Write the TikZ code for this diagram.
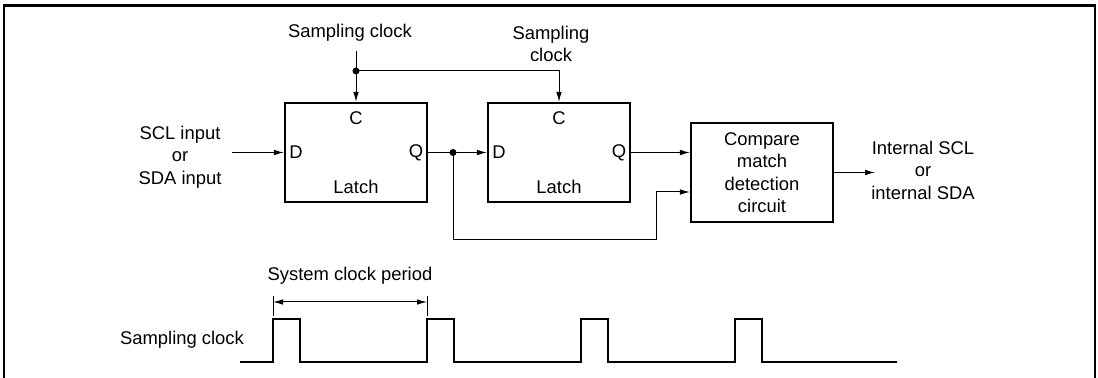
\documentclass[tikz,border=0pt]{standalone}
\usepackage{fontspec}
\setmainfont{Liberation Sans}
\usetikzlibrary{arrows.meta,positioning,calc}

\begin{document}
\begin{tikzpicture}[x=0.5pt,y=-0.5pt,
  every node/.style={font=\fontsize{9.2}{11.25}\selectfont},
  blk/.style={draw,line width=1.1pt,minimum width=71pt,minimum height=49.5pt,inner sep=0pt},
  arr/.style={line width=0.5pt,-{Latex[length=5pt,width=2.8pt]}},
  wire/.style={line width=0.5pt}]
  \useasboundingbox (0,0) rectangle (1098,378);
  % frame, open at the bottom
  \draw[line width=1.3pt] (4,378) -- (4,5.5) -- (1095,5.5) -- (1095,378);
  % latches and compare circuit
  \node[blk] (latchA) at (356,152.5) {};
  \node[blk] (latchB) at (559,152.5) {};
  \node[blk,align=center] (cmp) at (762,172.5) {Compare\\match\\detection\\circuit};
  \node (latchAd) at ($(latchA.west)+(12,0)$) {D};
  \node (latchAq) at ($(latchA.east)+(-12,0)$) {Q};
  \node (latchAc) at ($(latchA.north)+(0,16)$) {C};
  \node (latchAt) at ($(latchA.south)+(0,-16)$) {Latch};
  \node (latchBd) at ($(latchB.west)+(12,0)$) {D};
  \node (latchBq) at ($(latchB.east)+(-12,0)$) {Q};
  \node (latchBc) at ($(latchB.north)+(0,16)$) {C};
  \node (latchBt) at ($(latchB.south)+(0,-16)$) {Latch};
  % input
  \node[align=center] (inlbl) at (180,157) {SCL input\\or\\SDA input};
  \coordinate (inA) at (232,152.5);
  \draw[arr] (inA) -- (latchA.west);
  % sampling clock to both latches
  \node (clkA) at (350,33) {Sampling clock};
  \node[align=center] (clkB) at (551,44) {Sampling\\clock};
  \coordinate (clkAtop) at (356,51);
  \coordinate (jA) at (356,71);
  \draw[arr] (clkAtop) -- (latchA.north);
  \draw[arr] (jA) -| (latchB.north);
  \fill (jA) circle (3.5);
  % latch A to latch B, and round to the compare circuit
  \coordinate (jB) at (453,152.5);
  \coordinate (fb) at (656,240);
  \draw[arr] (latchA.east) -- (latchB.west);
  \fill (jB) circle (3.5);
  \draw[arr] (jB) |- (fb) |- ($(cmp.west)+(0,19.5)$);
  \draw[arr] (latchB.east) -- (latchB.east -| cmp.west);
  % output
  \coordinate (out) at (875,172.5);
  \draw[arr] (cmp.east) -- (out);
  \node[align=center] (outlbl) at (923,170) {Internal SCL\\or\\internal SDA};
  % sampling clock waveform
  \node (wlbl) at (182,340) {Sampling clock};
  \draw[line width=1pt] (240,362) -- (273,362) -- (273,319) -- (300,319) -- (300,362)
    -- (427,362) -- (427,319) -- (454,319) -- (454,362)
    -- (581,362) -- (581,319) -- (608,319) -- (608,362)
    -- (735,362) -- (735,319) -- (762,319) -- (762,362) -- (897,362);
  % one period
  \draw[wire] (273,296) -- (273,316);
  \draw[wire] (427,296) -- (427,316);
  \draw[wire,{Latex[length=5pt,width=2.8pt]}-{Latex[length=5pt,width=2.8pt]}] (273,302) -- (427,302);
  \node (perlbl) at (350,276) {System clock period};
\end{tikzpicture}
\end{document}
